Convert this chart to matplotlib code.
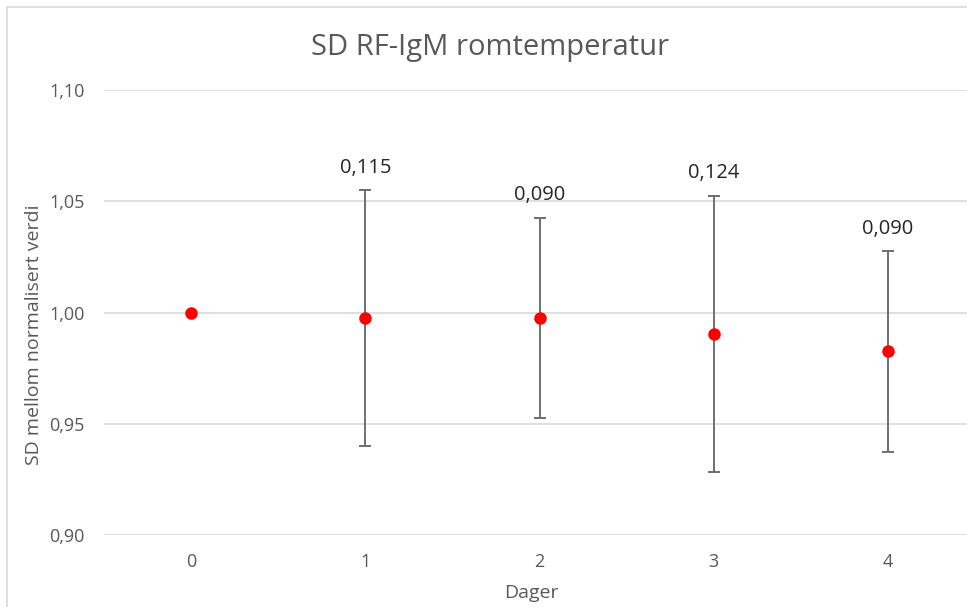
import matplotlib.pyplot as plt
from matplotlib.patches import Rectangle

days = [0, 1, 2, 3, 4]
means = [1.000, 0.9975, 0.9975, 0.9905, 0.9825]
sd = [0.0, 0.115, 0.090, 0.124, 0.090]
sd_labels = ["", "0,115", "0,090", "0,124", "0,090"]
yticks = [0.90, 0.95, 1.00, 1.05, 1.10]

plt.rcParams['font.family'] = ['Open Sans', 'DejaVu Sans']

fig = plt.figure(figsize=(9.67, 6.07), dpi=100)
ax = fig.add_axes([104 / 967, 1 - 535 / 607, 871 / 967, 445 / 607])

# outer chart frame (cropped on right and bottom)
fig.patches.append(Rectangle((7 / 967, -0.1), 2, 1.1 - 7.5 / 607,
                             transform=fig.transFigure, fill=False,
                             edgecolor='#d9d9d9', linewidth=1.2))

half = [s / 2 for s in sd]
ax.errorbar(days[1:], means[1:], yerr=half[1:], fmt='none',
            ecolor='#6f6f6f', elinewidth=1.4, capsize=4.5, capthick=1.4, zorder=2)
ax.plot(days, means, 'o', color='#ff0000', markersize=8, zorder=3)

for d, m, h, lab in zip(days, means, half, sd_labels):
    if lab:
        ax.annotate(lab, (d, m + h), xytext=(0, 9), textcoords='offset points',
                    ha='center', va='bottom', fontsize=14.5, color='#262626')

ax.set_xlim(-0.5, 4.5)
ax.set_ylim(0.90, 1.10)
ax.set_yticks(yticks)
ax.set_yticklabels([f"{t:.2f}".replace('.', ',') for t in yticks])
ax.set_xticks(days)
ax.set_xticklabels([str(d) for d in days])
ax.grid(axis='y', color='#d9d9d9', linewidth=1.2)
ax.set_axisbelow(True)
for s in ax.spines.values():
    s.set_visible(False)
ax.tick_params(length=0, labelsize=13, colors='#595959')
ax.tick_params(axis='y', pad=14)
ax.tick_params(axis='x', pad=13)

fig.text(490 / 967, 1 - 48 / 607, "SD RF-IgM romtemperatur", ha='center', va='center',
         fontsize=21, color='#595959')
fig.text(531 / 967, 1 - 593 / 607, "Dager", ha='center', va='center',
         fontsize=14, color='#595959')
fig.text(34 / 967, 1 - 335 / 607, "SD mellom normalisert verdi", ha='center', va='center',
         rotation=90, fontsize=14, color='#595959')

fig.savefig("out.png", dpi=100)
